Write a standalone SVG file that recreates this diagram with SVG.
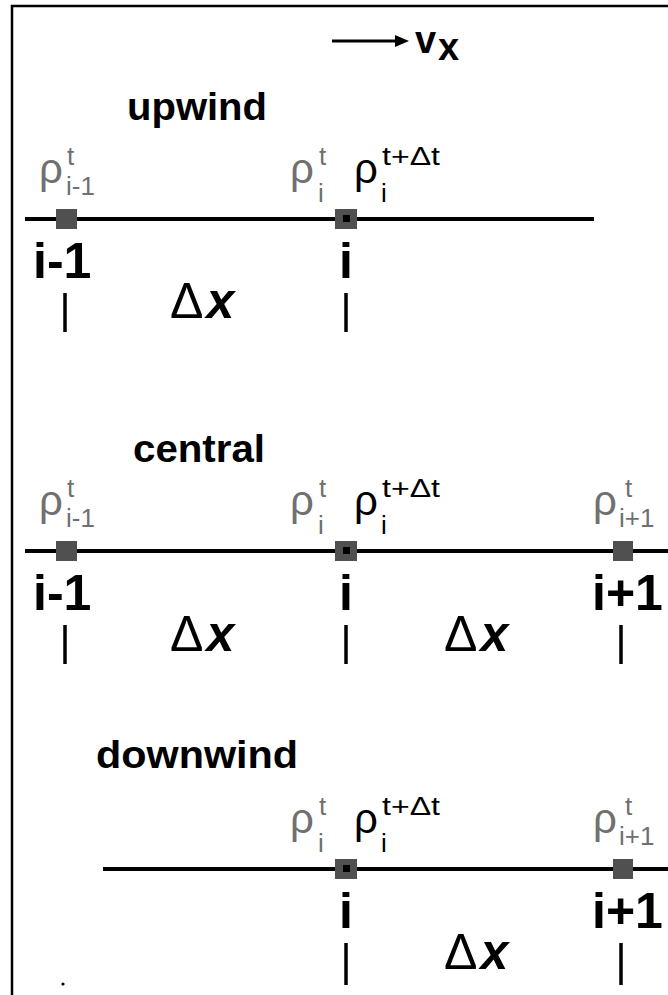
<svg xmlns="http://www.w3.org/2000/svg" width="668" height="995" viewBox="0 0 668 995">
<defs>
<style>
.title{font-family:"Liberation Sans",Arial,sans-serif;font-weight:bold;font-size:38px;fill:#000}
.rho{font-family:"Liberation Sans",Arial,sans-serif;font-size:42px;fill:#707070}
.rhob{font-family:"Liberation Sans",Arial,sans-serif;font-size:42px;fill:#000}
.sup{font-family:"Liberation Sans",Arial,sans-serif;font-size:26px;fill:#707070}
.supb{font-family:"Liberation Sans",Arial,sans-serif;font-size:26px;fill:#000}
.sub{font-family:"Liberation Sans",Arial,sans-serif;font-size:26px;fill:#707070}
.subb{font-family:"Liberation Sans",Arial,sans-serif;font-size:26px;fill:#000}
.idx{font-family:"Liberation Sans",Arial,sans-serif;font-weight:bold;font-size:50px;fill:#000}
.dl{font-family:"Liberation Sans",Arial,sans-serif;font-size:50px;fill:#000}
.dx{font-family:"Liberation Sans",Arial,sans-serif;font-size:50px;font-weight:bold;font-style:italic;fill:#000}
.axis{stroke:#000;stroke-width:4;fill:none}
.tick{stroke:#000;stroke-width:3.5}
.pt{fill:#505050}
.core{fill:#000}
.frame{stroke:#000;stroke-width:2.5;fill:none}
</style>
</defs>
<rect width="668" height="995" fill="#fff"/>
<path class="frame" d="M12 995 V6 H668"/>
<circle cx="63" cy="984" r="1.6" fill="#000"/>

<g id="connectors">
<line class="axis" x1="25" y1="219" x2="594" y2="219"/>
<line class="axis" x1="25" y1="551" x2="668" y2="551"/>
<line class="axis" x1="103" y1="869" x2="668" y2="869"/>
<line x1="332" y1="41" x2="397" y2="41" stroke="#000" stroke-width="3"/>
<polygon points="395,35 409,41 395,47" fill="#000"/>
</g>

<g id="vx-label">
<text class="title" x="415" y="53" font-size="40">v</text>
<text class="title" x="438" y="60" font-size="28">x</text>
</g>

<!-- UPWIND -->
<g id="upwind">
<text class="title" x="127" y="120" textLength="140" lengthAdjust="spacingAndGlyphs">upwind</text>
<g id="up-im1">
<rect class="pt" x="56" y="209" width="21" height="20"/>
<text class="rho" x="39" y="183">ρ</text>
<text class="sup" x="67" y="165">t</text>
<text class="sub" x="66" y="195">i-1</text>
<text class="idx" x="33" y="278">i-1</text>
<line class="tick" x1="65" y1="293" x2="65" y2="332"/>
</g>
<g id="up-i">
<rect class="pt" x="335" y="209" width="22" height="20"/>
<rect class="core" x="343" y="215" width="7" height="7"/>
<text class="rho" x="290" y="183">ρ</text>
<text class="sup" x="319" y="165">t</text>
<text class="sub" x="318" y="202">i</text>
<text class="rhob" x="354" y="183">ρ</text>
<text class="supb" x="382" y="165" textLength="58" lengthAdjust="spacingAndGlyphs">t+Δt</text>
<text class="subb" x="381" y="202">i</text>
<text class="idx" x="346" y="278" text-anchor="middle">i</text>
<line class="tick" x1="346" y1="293" x2="346" y2="332"/>
</g>
<g id="up-dx">
<text x="170" y="318"><tspan class="dl">Δ</tspan><tspan class="dx" dx="3">x</tspan></text>
</g>
</g>

<!-- CENTRAL -->
<g id="central">
<text class="title" x="133" y="462" textLength="132" lengthAdjust="spacingAndGlyphs">central</text>
<g id="c-im1">
<rect class="pt" x="56" y="541" width="21" height="20"/>
<text class="rho" x="39" y="515">ρ</text>
<text class="sup" x="67" y="497">t</text>
<text class="sub" x="66" y="527">i-1</text>
<text class="idx" x="33" y="610">i-1</text>
<line class="tick" x1="65" y1="625" x2="65" y2="664"/>
</g>
<g id="c-i">
<rect class="pt" x="335" y="541" width="22" height="20"/>
<rect class="core" x="343" y="547" width="7" height="7"/>
<text class="rho" x="290" y="515">ρ</text>
<text class="sup" x="319" y="497">t</text>
<text class="sub" x="318" y="534">i</text>
<text class="rhob" x="354" y="515">ρ</text>
<text class="supb" x="382" y="497" textLength="58" lengthAdjust="spacingAndGlyphs">t+Δt</text>
<text class="subb" x="381" y="534">i</text>
<text class="idx" x="346" y="610" text-anchor="middle">i</text>
<line class="tick" x1="346" y1="625" x2="346" y2="664"/>
</g>
<g id="c-ip1">
<rect class="pt" x="613" y="541" width="20" height="20"/>
<text class="rho" x="593" y="515">ρ</text>
<text class="sup" x="625" y="497">t</text>
<text class="sub" x="619" y="527">i+1</text>
<text class="idx" x="592" y="610">i+1</text>
<line class="tick" x1="621" y1="625" x2="621" y2="664"/>
</g>
<g id="c-dx1">
<text x="170" y="651"><tspan class="dl">Δ</tspan><tspan class="dx" dx="3">x</tspan></text>
</g>
<g id="c-dx2">
<text x="444" y="651"><tspan class="dl">Δ</tspan><tspan class="dx" dx="3">x</tspan></text>
</g>
</g>

<!-- DOWNWIND -->
<g id="downwind">
<text class="title" x="96" y="768" textLength="202" lengthAdjust="spacingAndGlyphs">downwind</text>
<g id="d-i">
<rect class="pt" x="335" y="859" width="22" height="20"/>
<rect class="core" x="343" y="865" width="7" height="7"/>
<text class="rho" x="290" y="833">ρ</text>
<text class="sup" x="319" y="815">t</text>
<text class="sub" x="318" y="852">i</text>
<text class="rhob" x="354" y="833">ρ</text>
<text class="supb" x="382" y="815" textLength="58" lengthAdjust="spacingAndGlyphs">t+Δt</text>
<text class="subb" x="381" y="852">i</text>
<text class="idx" x="346" y="928" text-anchor="middle">i</text>
<line class="tick" x1="346" y1="943" x2="346" y2="985"/>
</g>
<g id="d-ip1">
<rect class="pt" x="613" y="859" width="20" height="20"/>
<text class="rho" x="593" y="833">ρ</text>
<text class="sup" x="625" y="815">t</text>
<text class="sub" x="619" y="845">i+1</text>
<text class="idx" x="592" y="928">i+1</text>
<line class="tick" x1="621" y1="943" x2="621" y2="985"/>
</g>
<g id="d-dx">
<text x="444" y="969"><tspan class="dl">Δ</tspan><tspan class="dx" dx="3">x</tspan></text>
</g>
</g>
</svg>
